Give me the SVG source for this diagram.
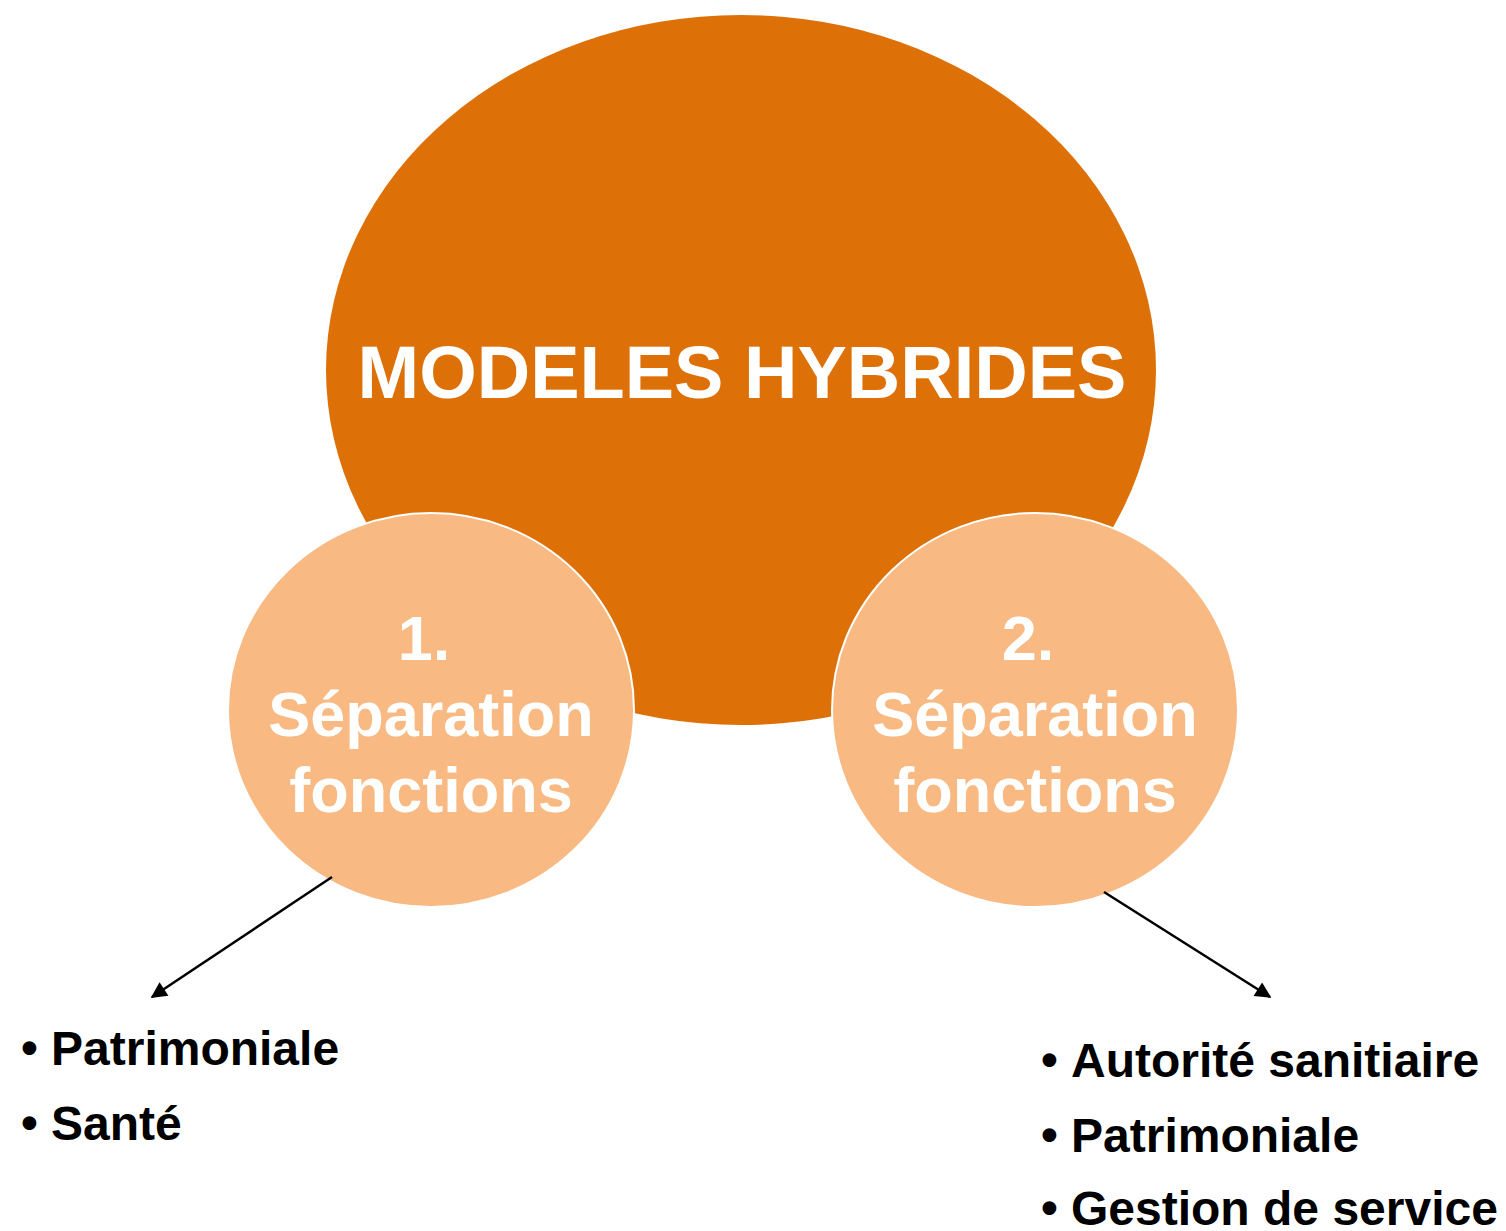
<svg xmlns="http://www.w3.org/2000/svg" width="1506" height="1231" viewBox="0 0 1506 1231">
<style>
.t{font-family:"Liberation Sans",Arial,sans-serif;font-weight:bold}
.w{fill:#fff;text-anchor:middle}
.b{fill:#000;font-size:48px}
.small{fill:#F8B982;stroke:#fff;stroke-width:2}
</style>
<defs>
<marker id="ah2" viewBox="0 0 10 10" refX="9" refY="5" markerWidth="18" markerHeight="16" orient="auto" markerUnits="userSpaceOnUse"><path d="M0,0 L10,5 L0,10 z" fill="#000"/></marker>
</defs>
<rect width="1506" height="1231" fill="#fff"/>
<g id="main">
<ellipse cx="741" cy="370" rx="415" ry="355" fill="#DD7108"/>
<text class="t w" x="742" y="398" font-size="74">MODELES HYBRIDES</text>
</g>
<g id="node1">
<ellipse class="small" cx="431" cy="710" rx="203" ry="197"/>
<text class="t w" font-size="63"><tspan x="424" y="660">1.</tspan><tspan x="431" y="736">Séparation</tspan><tspan x="431" y="812">fonctions</tspan></text>
</g>
<g id="node2">
<ellipse class="small" cx="1035" cy="710" rx="203" ry="197"/>
<text class="t w" font-size="63"><tspan x="1028" y="660">2.</tspan><tspan x="1035" y="736">Séparation</tspan><tspan x="1035" y="812">fonctions</tspan></text>
</g>
<g id="connectors" stroke="#000" stroke-width="2.5" fill="none">
<line x1="332" y1="877" x2="152" y2="997" marker-end="url(#ah2)"/>
<line x1="1104" y1="892" x2="1270" y2="997" marker-end="url(#ah2)"/>
</g>
<g id="list1" class="t b">
<text x="21" y="1064">•</text><text x="51" y="1065">Patrimoniale</text>
<text x="21" y="1139">•</text><text x="51" y="1140">Santé</text>
</g>
<g id="list2" class="t b">
<text x="1041" y="1076">•</text><text x="1071" y="1077">Autorité sanitiaire</text>
<text x="1041" y="1151">•</text><text x="1071" y="1152">Patrimoniale</text>
<text x="1041" y="1224">•</text><text x="1071" y="1225">Gestion de service</text>
</g>
</svg>
